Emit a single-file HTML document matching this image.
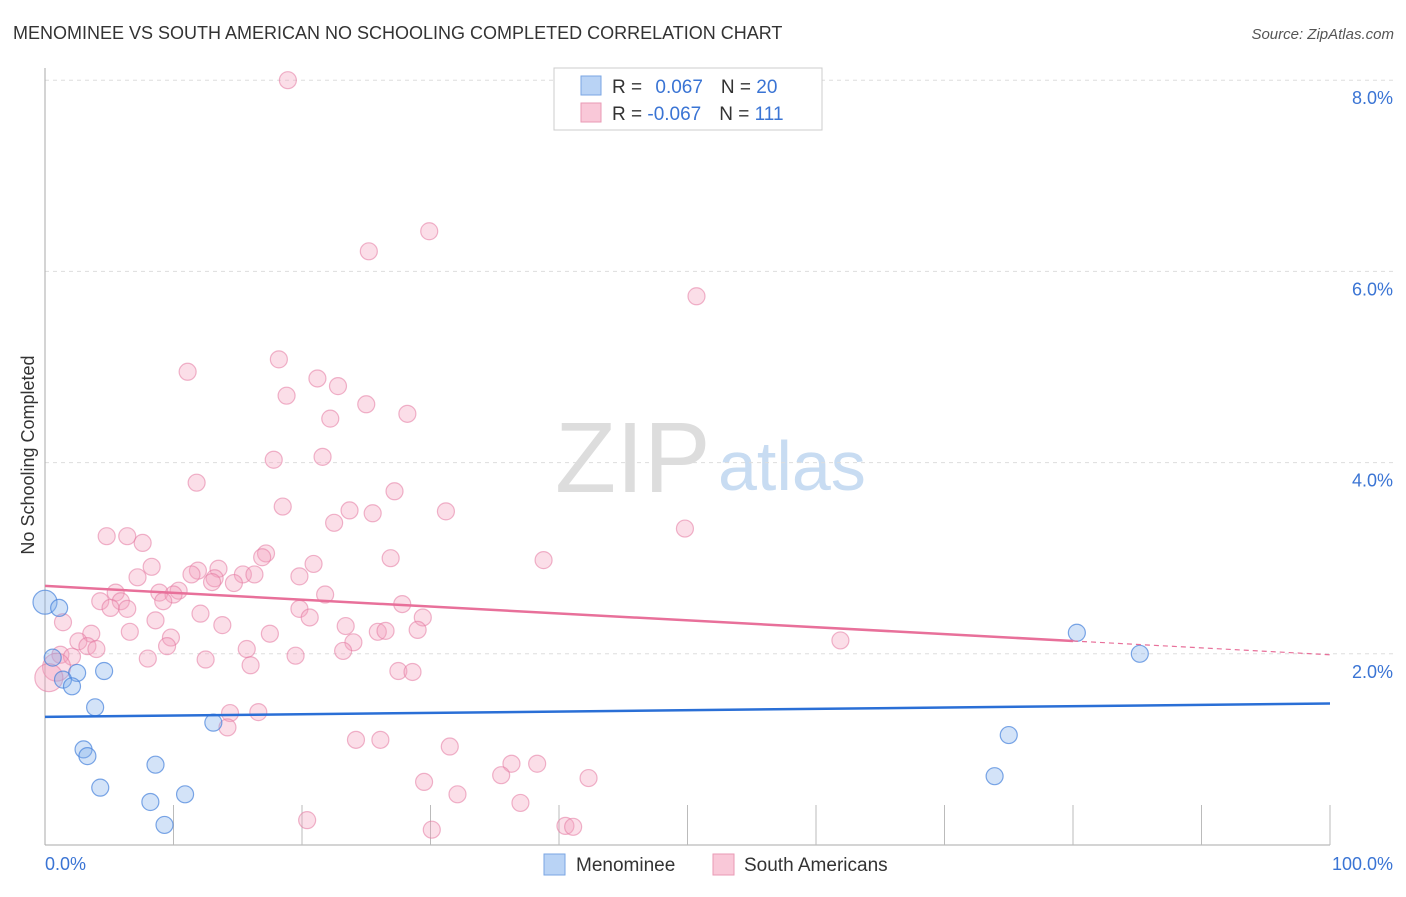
<!DOCTYPE html>
<html><head><meta charset="utf-8"><style>
body{margin:0;background:#fff;font-family:"Liberation Sans",sans-serif;}
svg text{font-family:"Liberation Sans",sans-serif;}
</style></head><body>
<svg id="c" width="1406" height="892">
<text x="13" y="39" font-size="18" fill="#333">MENOMINEE VS SOUTH AMERICAN NO SCHOOLING COMPLETED CORRELATION CHART</text>
<text x="1394" y="39" font-size="15" fill="#555" font-style="italic" text-anchor="end">Source: ZipAtlas.com</text>
<text transform="translate(34,455) rotate(-90)" font-size="18" fill="#333" text-anchor="middle">No Schooling Completed</text>
<text x="555" y="492" font-size="100" fill="#ddd" font-family="Liberation Serif">ZIP</text>
<text x="718" y="490" font-size="70" fill="#c8dcf2">atlas</text>
<g id="grid"></g><g id="marks"></g>
<g>
<rect x="554" y="68" width="268" height="62" fill="#fff" stroke="#ccc"/>
<rect x="581" y="76" width="20" height="19" fill="#b9d3f5" stroke="#7aa6e3"/>
<rect x="581" y="103" width="20" height="19" fill="#f9c8d8" stroke="#e99ab5"/>
<text x="612" y="93" font-size="19" fill="#333">R = <tspan fill="#3a74d4" dx="8">0.067</tspan><tspan dx="18" fill="#333">N = </tspan><tspan fill="#3a74d4">20</tspan></text>
<text x="612" y="120" font-size="19" fill="#333">R = <tspan fill="#3a74d4">-0.067</tspan><tspan dx="18" fill="#333">N = </tspan><tspan fill="#3a74d4">111</tspan></text>
</g>
<g>
<rect x="544" y="854" width="21" height="21" fill="#b9d3f5" stroke="#7aa6e3"/>
<text x="576" y="871" font-size="19" fill="#333">Menominee</text>
<rect x="713" y="854" width="21" height="21" fill="#f9c8d8" stroke="#e99ab5"/>
<text x="744" y="871" font-size="19" fill="#333">South Americans</text>
</g>
</svg>
<script>
const yTicks=[2,4,6,8];
const xTickCount=10;
const blueX=[0,1.1,0.6,2.5,4.6,1.4,2.1,3.9,13.1,3.0,3.3,8.6,4.3,8.2,10.9,9.3,80.3,85.2,75.0,73.9];
const blueY=[2.54,2.48,1.96,1.80,1.82,1.73,1.66,1.44,1.28,1.00,0.93,0.84,0.60,0.45,0.53,0.21,2.22,2.00,1.15,0.72];
const pinkX=[18.9,29.9,25.2,50.7,18.2,11.1,21.2,22.8,18.8,25.0,28.2,22.2,21.6,17.8,11.8,27.2,18.5,23.7,31.2,25.5,22.5,49.8,4.8,6.4,7.6,17.2,16.9,26.9,38.8,20.9,8.3,11.9,13.5,11.4,15.4,16.3,7.2,13.2,19.8,13.0,14.7,5.5,8.9,10.4,21.8,10.0,4.3,5.9,9.2,27.8,6.4,5.1,19.8,12.1,20.6,29.4,8.6,1.4,13.8,23.4,25.9,26.5,29.0,6.6,17.5,61.9,3.6,9.8,2.6,3.3,24.0,9.5,15.7,4.0,1.2,2.1,23.2,8.0,12.5,19.5,16.0,27.5,28.6,0.9,0.3,14.4,16.6,14.2,24.2,26.1,31.5,36.3,38.3,35.5,42.3,29.5,32.1,37.0,20.4,30.1,40.5,41.1];
const pinkY=[8.0,6.42,6.21,5.74,5.08,4.95,4.88,4.80,4.70,4.61,4.51,4.46,4.06,4.03,3.79,3.70,3.54,3.50,3.49,3.47,3.37,3.31,3.23,3.23,3.16,3.05,3.01,3.00,2.98,2.94,2.91,2.87,2.89,2.83,2.83,2.83,2.80,2.79,2.81,2.75,2.74,2.64,2.64,2.66,2.62,2.62,2.55,2.55,2.55,2.52,2.47,2.48,2.47,2.42,2.38,2.38,2.35,2.33,2.30,2.29,2.23,2.24,2.25,2.23,2.21,2.14,2.21,2.17,2.13,2.08,2.12,2.08,2.05,2.05,1.99,1.97,2.03,1.95,1.94,1.98,1.88,1.82,1.81,1.86,1.75,1.38,1.39,1.23,1.10,1.10,1.03,0.85,0.85,0.73,0.70,0.66,0.53,0.44,0.26,0.16,0.20,0.19];
const blueTrend=[1.34,1.48];
const pinkTrend=[2.71,1.99];
const pinkSolidEnd=80;
const X=v=>45+v*12.85, Y=v=>845-v*95.6;
const NS='http://www.w3.org/2000/svg';
function mk(t,a,p){const e=document.createElementNS(NS,t);for(const k in a)e.setAttribute(k,a[k]);p.appendChild(e);return e;}
const grid=document.getElementById('grid'),marks=document.getElementById('marks');
yTicks.forEach(t=>{
 const l=mk('line',{x1:45,x2:1394,y1:Y(t),y2:Y(t),stroke:'#ddd','stroke-dasharray':'4,4'},grid);
 
 
 const tx=mk('text',{x:1393,y:Y(t)+24,'font-size':18,fill:'#3a74d4','text-anchor':'end'},grid);
 tx.textContent=t.toFixed(1)+'%';
 
 
});
const ax=mk('line',{x1:45,x2:45,y1:68,y2:845,stroke:'#aaa'},grid);


const bx=mk('line',{x1:45,x2:1330,y1:845,y2:845,stroke:'#aaa'},grid);


for(let i=1;i<=xTickCount;i++){const v=i*100/xTickCount;
 const t=mk('line',{x1:X(v),x2:X(v),y1:805,y2:845,stroke:'#bbb'},grid);
 
 }
const xl=mk('text',{x:45,y:870,'font-size':18,fill:'#3a74d4'},grid);xl.textContent='0.0%';


const xr=mk('text',{x:1393,y:870,'font-size':18,fill:'#3a74d4','text-anchor':'end'},grid);xr.textContent='100.0%';


pinkX.forEach((x,i)=>{const big=x<1.5&&pinkY[i]<1.9;
 const c=mk('circle',{cx:X(x),cy:Y(pinkY[i]),r:big?14:8.5,fill:'rgba(244,160,188,0.35)',stroke:'rgba(228,120,160,0.55)','stroke-width':1.2},marks);
 
 });
blueX.forEach((x,i)=>{
 const c=mk('circle',{cx:X(x),cy:Y(blueY[i]),r:x<0.5?12:8.5,fill:'rgba(130,175,235,0.35)',stroke:'rgba(70,130,220,0.7)','stroke-width':1.2},marks);
 
 });
const pv=x=>pinkTrend[0]+(pinkTrend[1]-pinkTrend[0])*x/100;
const pl=mk('line',{x1:X(0),y1:Y(pinkTrend[0]),x2:X(pinkSolidEnd),y2:Y(pv(pinkSolidEnd)),stroke:'#e8709a','stroke-width':2.5},marks);


const pd=mk('line',{x1:X(pinkSolidEnd),y1:Y(pv(pinkSolidEnd)),x2:X(100),y2:Y(pinkTrend[1]),stroke:'#e8709a','stroke-width':1.2,'stroke-dasharray':'5,4'},marks);


const bl=mk('line',{x1:X(0),y1:Y(blueTrend[0]),x2:X(100),y2:Y(blueTrend[1]),stroke:'#2a6fd6','stroke-width':2.5},marks);


</script>
</body></html>
